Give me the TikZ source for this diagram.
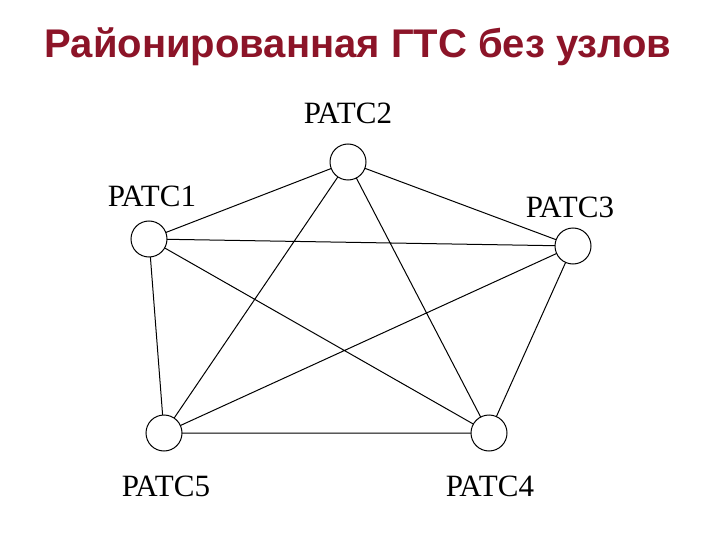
\documentclass[tikz,border=0pt]{standalone}
\usepackage{fontspec}
\setmainfont{Liberation Serif}
\newfontfamily\titlefont{Liberation Sans}
\definecolor{titlered}{RGB}{140,20,40}
\begin{document}
\begin{tikzpicture}[x=1pt,y=-1pt,
  stn/.style={circle,draw,line width=1pt,minimum size=36pt,inner sep=0pt,fill=white},
  lbl/.style={font=\fontsize{31}{34}\selectfont},
  edge/.style={line width=1pt}]
\useasboundingbox (0,0) rectangle (720,540);
\node[font=\titlefont\bfseries\fontsize{40}{44}\selectfont,text=titlered] (t) at (358,47) {Районированная ГТС без узлов};
\coordinate (p1) at (149,239);
\coordinate (p2) at (348,162);
\coordinate (p3) at (573,246);
\coordinate (p4) at (489,433);
\coordinate (p5) at (164,433);
\draw[edge] (p1)--(p2) (p1)--(p3) (p1)--(p4) (p1)--(p5) (p2)--(p3) (p2)--(p4) (p2)--(p5) (p3)--(p4) (p3)--(p5) (p4)--(p5);
\node[stn] (n1) at (p1) {};
\node[stn] (n2) at (p2) {};
\node[stn] (n3) at (p3) {};
\node[stn] (n4) at (p4) {};
\node[stn] (n5) at (p5) {};
\node[lbl] (l2) at (348,113) {РАТС2};
\node[lbl] (l1) at (152,196) {РАТС1};
\node[lbl] (l3) at (570,207) {РАТС3};
\node[lbl] (l5) at (166,486) {РАТС5};
\node[lbl] (l4) at (490,486) {РАТС4};
\end{tikzpicture}
\end{document}
